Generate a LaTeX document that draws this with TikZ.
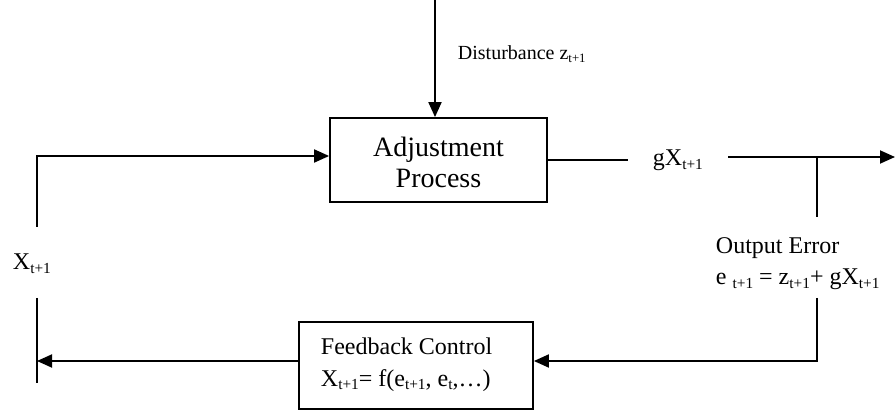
\documentclass[tikz,border=0pt]{standalone}
\usepackage{graphicx}
\usepackage{fontspec}
\setmainfont{Liberation Serif}
\usetikzlibrary{arrows.meta}
% small lowered index, as in X_{t+1}
\newcommand\sbt[1]{\raisebox{-0.14em}{\scalebox{0.64}{#1}}}
\begin{document}
\begin{tikzpicture}[x=1pt,y=-1pt,
  line width=1.9pt,
  tip/.style={-{Triangle[length=15pt,width=13pt]}},
  blk/.style={draw,line width=1.8pt,inner sep=0pt},
  lbl/.style={font=\fontsize{24}{32}\selectfont,inner sep=0pt,align=left},
  small/.style={font=\fontsize{20}{24}\selectfont,inner sep=0pt}]
\useasboundingbox (0,0) rectangle (895,414);

% blocks (multi-line texts are placed by the baseline of their last line)
\node[blk,minimum width=217pt,minimum height=84pt] (adj) at (438.5,160) {};
\node[font=\fontsize{28}{31}\selectfont,inner sep=0pt,align=center,anchor=base]
  (adjtext) at (438.5,188) {Adjustment\\Process};
\node[blk,minimum width=234pt,minimum height=87pt] (fb) at (416,365.5) {};
\node[lbl,anchor=base west] (fbtext) at (320,386)
  {Feedback Control\\X\sbt{t+1}= f(e\sbt{t+1}, e\sbt{t},\ldots)};

% labels
\node[small,anchor=base west] (dist) at (457,60) {Disturbance z\sbt{t+1}};
\node[lbl,anchor=base west] (xin) at (12,270) {X\sbt{t+1}};
\node[lbl,anchor=base west] (gx) at (652,166) {gX\sbt{t+1}};
\node[lbl,anchor=base west] (err) at (715,285)
  {Output Error\\e~\sbt{t+1} = z\sbt{t+1}+ gX\sbt{t+1}};

% connection points
\coordinate (top) at (435,0);
\coordinate (inTop) at (37,156);
\coordinate (inBot) at (37,227);
\coordinate (fbTop) at (37,298);
\coordinate (fbBot) at (37,383);
\coordinate (outA) at (628,160);
\coordinate (outB) at (728,157);
\coordinate (outEnd) at (895,157);
\coordinate (tap) at (817,157);
\coordinate (tapEnd) at (817,217);
\coordinate (errTop) at (817,298);
\coordinate (errCorner) at (817,361);

% connectors
\draw[tip] (top) -- (top |- adj.north);
\draw[tip] (inBot) -- (inTop) -- (inTop -| adj.west);
\draw (adj.east |- outA) -- (outA);
\draw[tip] (outB) -- (outEnd);
\draw (tap) -- (tapEnd);
\draw[tip] (errTop) -- (errCorner) -- (errCorner -| fb.east);
\draw (fbTop) -- (fbBot);
\draw[tip] (fb.west |- errCorner) -- (fbTop |- errCorner);
\end{tikzpicture}
\end{document}
